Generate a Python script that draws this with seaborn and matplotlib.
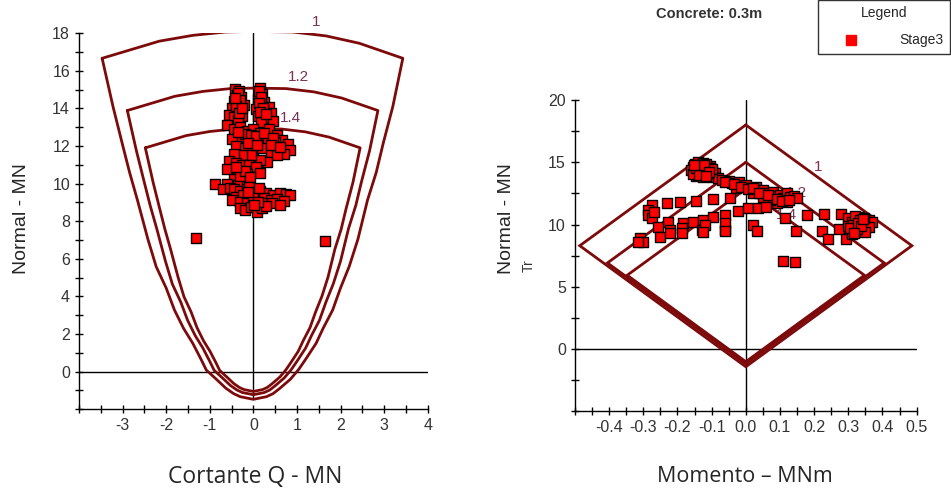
import numpy as np
import pandas as pd
import matplotlib
matplotlib.use("Agg")
import matplotlib.pyplot as plt
from matplotlib.ticker import FixedLocator, MultipleLocator, FormatStrFormatter
from matplotlib.lines import Line2D
import seaborn as sns

sns.set_style("white")
plt.rcParams["font.family"] = ["Liberation Sans", "DejaVu Sans"]
plt.rcParams["axes.unicode_minus"] = False

# ---------------- data ----------------
# safety factors of the envelopes
safety_factors = [1.0, 1.2, 1.4]
factor_labels = ["1", "1.2", "1.4"]

# shear/normal interaction envelope (factor 1), closed loop
env_q = [-3.47, -2.16, -1.39, -0.63, 0.00, 0.90, 1.67, 2.43, 3.43,
         3.20, 2.98, 2.82, 2.62, 2.40, 2.20, 2.00, 1.82, 1.60, 1.44, 1.20,
         1.04, 0.85, 0.60, 0.45, 0.30, 0.00, -0.30, -0.45, -0.63, -0.85,
         -1.08, -1.20, -1.39, -1.60, -1.81, -2.00, -2.23, -2.42, -2.66,
         -2.84, -3.01, -3.22, -3.47]
env_nq = [16.67, 17.58, 17.89, 18.07, 18.10, 18.07, 17.86, 17.47, 16.67,
          14.10, 12.15, 10.60, 9.13, 7.05, 5.60, 4.45, 3.28, 2.30, 1.51, 0.66,
          0.12, -0.40, -0.90, -1.17, -1.33, -1.47, -1.33, -1.17, -0.88, -0.40,
          0.09, 0.66, 1.51, 2.30, 3.28, 4.45, 5.59, 7.05, 9.13,
          10.60, 12.15, 14.10, 16.67]

# moment/normal interaction envelope (factor 1), closed loop
env_m = [0.0, 0.486, 0.0, -0.486, 0.0]
env_nm = [18.0, 8.3, -1.42, 8.3, 18.0]

# Stage3 results: shear vs normal force
stage_q = [-0.42, -0.32, -0.38, -0.28, -0.45, -0.35, -0.22, -0.50, -0.40, -0.30,
           -0.55, -0.45, -0.25, -0.35, -0.36, -0.30, -0.40, -0.33, -0.27, -0.43,
           0.15, 0.12, 0.20, 0.10, 0.25, 0.15, 0.35, 0.05, 0.22, 0.40,
           0.10, 0.30, 0.45, 0.18, 0.14, 0.18, 0.12, 0.22, 0.16, 0.28,
           -0.60, -0.45, -0.30, -0.15, 0.00, 0.15, 0.35, 0.55, 0.65, 0.80,
           0.85, 0.70, 0.50, 0.30, 0.10, -0.10, -0.30, -0.50, -0.40, -0.20,
           0.00, 0.20, 0.40, 0.55, 0.31, 0.15, -0.05, -0.25, -0.45, -0.55,
           -0.20, -0.05, 0.05, 0.25, 0.45, -0.35, -0.12, 0.08, 0.40, 0.62,
           -0.40, -0.25, -0.10, 0.05, -0.61, -0.35, -0.15, 0.15, -0.45, -0.25,
           -0.60, -0.88, -0.70, -0.35, -0.15, -0.53, -0.30, -0.20, -0.08, -0.40,
           -0.45, -0.30, -0.15, 0.00, 0.15, 0.30, 0.45, 0.61, 0.75, 0.84,
           -0.40, -0.23, -0.05, 0.10, 0.25, 0.40, 0.55, 0.70, -0.50, -0.30,
           -0.15, 0.05, 0.20, 0.42, 0.61, -0.30, -0.20, -0.05, 0.08, 0.20, 0.30,
           -0.10, 0.00, 0.10, 0.02, -0.12, 0.12,
           -1.32, 1.65]
stage_nq = [15.05, 14.95, 14.70, 14.60, 14.40, 14.30, 14.20, 14.05, 13.95, 13.90,
            13.65, 13.55, 13.60, 13.40, 14.85, 14.45, 14.15, 13.75, 14.00, 14.55,
            15.10, 14.85, 14.75, 14.50, 14.35, 14.20, 14.10, 13.95, 13.90, 13.75,
            13.60, 13.50, 13.35, 13.30, 14.95, 14.60, 14.30, 14.05, 13.80, 13.70,
            13.10, 12.90, 13.00, 12.80, 12.90, 12.70, 12.90, 12.60, 12.30, 12.10,
            11.80, 11.60, 12.20, 12.40, 12.30, 12.40, 12.50, 12.40, 12.00, 11.90,
            11.80, 11.90, 11.70, 11.50, 11.17, 11.25, 11.50, 11.50, 11.60, 11.20,
            12.65, 12.60, 12.55, 12.70, 12.45, 12.75, 12.15, 12.05, 12.05, 11.95,
            11.10, 11.00, 11.00, 10.90, 10.80, 10.60, 10.50, 10.55, 10.25, 10.20,
            10.00, 9.97, 9.70, 9.95, 10.10, 9.75, 10.40, 10.70, 10.35, 10.90,
            9.70, 9.60, 9.70, 9.50, 9.60, 9.50, 9.40, 9.50, 9.45, 9.40,
            9.30, 9.40, 9.20, 9.30, 9.25, 9.15, 9.20, 9.10, 9.13, 9.00,
            8.95, 9.00, 8.95, 8.96, 8.87, 8.70, 8.60, 8.75, 8.50, 8.70, 8.80,
            9.85, 9.35, 9.05, 8.85, 9.55, 9.75,
            7.10, 6.97]

# Stage3 results: bending moment vs normal force
stage_m = [-0.150, -0.140, -0.125, -0.155, -0.140, -0.120, -0.105, -0.150, -0.135, -0.120,
           -0.100, -0.145, -0.125, -0.110, -0.090, -0.130, -0.115, -0.160, -0.095, -0.080,
           -0.145, -0.135, -0.130, -0.150, -0.110, -0.140, -0.125, -0.118, -0.105, -0.155,
           -0.132, -0.112, -0.128, -0.147, -0.098, -0.138, -0.122, -0.108, -0.152, -0.117,
           -0.07, -0.05, -0.04, -0.02, -0.01, 0.00, 0.01, 0.03, 0.03, 0.05,
           0.06, 0.08, 0.08, 0.10, 0.11, 0.12, 0.13, 0.14, 0.10, 0.09,
           0.07, 0.05, 0.02, -0.03, 0.12, 0.15,
           -0.06, -0.035, -0.015, 0.005, 0.02, 0.04, 0.065, 0.09, 0.105, 0.125,
           -0.275, -0.230, -0.193, -0.146, -0.097, -0.045,
           -0.285, -0.285, -0.275, -0.270,
           -0.227, -0.183, -0.154, -0.125, -0.095, -0.061, -0.022, 0.007, 0.036, 0.060,
           -0.256, -0.222, -0.188, -0.129, -0.120, -0.061, -0.061, -0.309, -0.300, -0.316,
           -0.251, -0.222, -0.188, -0.126, -0.061, 0.021, 0.033,
           0.114, 0.146, 0.109, 0.143, 0.179, 0.230, 0.224, 0.240, 0.279, 0.274, 0.292,
           0.300, 0.310, 0.320, 0.310, 0.330, 0.340, 0.330, 0.320, 0.350, 0.340,
           0.360, 0.370, 0.360, 0.350, 0.300, 0.320, 0.345, 0.310,
           0.315, 0.325, 0.335, 0.305, 0.328, 0.338, 0.318, 0.342]
stage_nm = [14.90, 15.00, 14.95, 14.60, 14.50, 14.60, 14.70, 14.20, 14.10, 14.30,
            14.30, 13.90, 13.85, 14.00, 14.10, 14.70, 14.40, 14.40, 13.80, 13.75,
            14.75, 14.80, 14.45, 14.35, 14.50, 14.00, 14.20, 14.85, 14.55, 14.05,
            14.65, 14.15, 14.40, 14.55, 14.45, 13.95, 14.75, 14.25, 14.80, 13.90,
            13.60, 13.50, 13.30, 13.40, 13.10, 13.20, 12.90, 13.00, 12.70, 12.80,
            12.50, 12.60, 12.30, 12.40, 12.10, 12.50, 12.20, 12.30, 11.90, 11.70,
            12.00, 12.20, 12.50, 12.90, 11.80, 12.10,
            13.45, 13.25, 13.00, 12.85, 12.95, 12.55, 12.40, 12.05, 11.85, 12.00,
            11.57, 11.70, 11.83, 11.91, 12.02, 12.15,
            11.20, 10.80, 10.50, 11.00,
            10.22, 10.10, 10.22, 10.36, 10.57, 10.76, 11.10, 11.30, 11.30, 11.43,
            9.82, 9.56, 9.69, 9.56, 9.96, 9.56, 10.10, 8.89, 8.62, 8.60,
            9.02, 9.30, 9.29, 9.42, 9.48, 9.96, 9.48,
            10.50, 9.48, 7.09, 6.96, 10.76, 10.84, 9.50, 8.81, 10.84, 9.61, 8.81,
            10.50, 10.20, 9.80, 9.40, 10.60, 10.30, 9.90, 9.50, 10.10, 9.60,
            10.40, 10.20, 9.80, 9.40, 9.90, 10.70, 10.55, 9.20,
            10.00, 9.65, 10.35, 9.70, 10.15, 9.85, 9.35, 10.45]

q_ticks = [-3, -2, -1, 0, 1, 2, 3, 4]
nq_ticks = [0, 2, 4, 6, 8, 10, 12, 14, 16, 18]
m_ticks = [-0.4, -0.3, -0.2, -0.1, 0.0, 0.1, 0.2, 0.3, 0.4, 0.5]
nm_ticks = [0, 5, 10, 15, 20]

df_q = pd.DataFrame({"Q": stage_q, "N": stage_nq})
df_m = pd.DataFrame({"M": stage_m, "N": stage_nm})

# ---------------- figure ----------------
ENV_COLOR = "#7d0a0a"
LBL_COLOR = "#7b3355"
TICK_COLOR = "#333333"

fig = plt.figure(figsize=(9.51, 4.91), dpi=100)
ax1 = fig.add_axes([0.0831, 0.1664, 0.3666, 0.7658])
ax2 = fig.add_axes([0.6046, 0.1623, 0.3593, 0.6340])


def style_axes(ax):
    for side in ("top", "right"):
        ax.spines[side].set_visible(False)
    for side in ("left", "bottom"):
        ax.spines[side].set_color("black")
        ax.spines[side].set_linewidth(1.0)
    ax.tick_params(which="both", bottom=True, left=True, direction="inout",
                   length=6, width=1.0, color="black", labelcolor=TICK_COLOR,
                   labelsize=11.5)
    ax.set_facecolor("white")


# left: shear - normal
style_axes(ax1)
ax1.set_xlim(-4, 4)
ax1.set_ylim(-2, 18)
ax1.axhline(0, color="black", lw=1.0, zorder=1)
ax1.plot([0, 0], [min(env_nq), max(env_nq)], color="black", lw=1.0, zorder=1)
for fs in safety_factors:
    ax1.plot(np.array(env_q) / fs, np.array(env_nq) / fs, color=ENV_COLOR,
             lw=2.0, zorder=2, solid_joinstyle="round")
for txt, x, y in zip(factor_labels, [1.44, 1.04, 0.84], [18.6, 15.7, 13.5]):
    ax1.text(x, y, txt, color=LBL_COLOR, fontsize=11, ha="center", va="center", zorder=2)
sns.scatterplot(data=df_q, x="Q", y="N", ax=ax1, marker="s", s=60, color="#ff0000",
                edgecolor="black", linewidth=1.0, zorder=3, legend=False)
ax1.xaxis.set_major_locator(FixedLocator(q_ticks))
ax1.xaxis.set_minor_locator(MultipleLocator(0.5))
ax1.yaxis.set_major_locator(FixedLocator(nq_ticks))
ax1.yaxis.set_minor_locator(MultipleLocator(1))
ax1.set_xlabel("Cortante Q - MN", fontsize=16.5, family=["Open Sans", "DejaVu Sans"],
               va="center")
ax1.set_ylabel("Normal - MN", fontsize=14, va="center")
ax1.xaxis.set_label_coords(0.505, -0.18)
ax1.yaxis.set_label_coords(-0.166, 0.506)

# right: moment - normal
style_axes(ax2)
ax2.set_xlim(-0.5, 0.5)
ax2.set_ylim(-5, 20)
ax2.axhline(0, color="black", lw=1.0, zorder=1)
ax2.axvline(0, color="black", lw=1.0, zorder=1)
for fs in safety_factors:
    ax2.plot(np.array(env_m) / fs, np.array(env_nm) / fs, color=ENV_COLOR,
             lw=2.0, zorder=2, solid_joinstyle="miter")
for txt, x, y in zip(factor_labels, [0.212, 0.149, 0.12], [14.64, 12.5, 10.76]):
    ax2.text(x, y, txt, color=LBL_COLOR, fontsize=11, ha="center", va="center", zorder=2)
sns.scatterplot(data=df_m, x="M", y="N", ax=ax2, marker="s", s=60, color="#ff0000",
                edgecolor="black", linewidth=1.0, zorder=3, legend=False)
ax2.xaxis.set_major_locator(FixedLocator(m_ticks))
ax2.xaxis.set_major_formatter(FormatStrFormatter("%.1f"))
ax2.xaxis.set_minor_locator(MultipleLocator(0.05))
ax2.yaxis.set_major_locator(FixedLocator(nm_ticks))
ax2.yaxis.set_minor_locator(MultipleLocator(2.5))
ax2.set_xlabel("Momento \u2013 MNm", fontsize=15.5, family=["Open Sans", "DejaVu Sans"],
               va="center")
ax2.set_ylabel("Normal - MN", fontsize=14, va="center")
ax2.xaxis.set_label_coords(0.4975, -0.211)
ax2.yaxis.set_label_coords(-0.199, 0.618)
fig.text(0.5563, 0.4582, "Tr", rotation=90, fontsize=10, color=TICK_COLOR,
         ha="center", va="center")

fig.text(0.7455, 0.9715, "Concrete: 0.3m", fontsize=10.5, fontweight="bold",
         color=TICK_COLOR, ha="center", va="center")

handle = Line2D([], [], linestyle="none", marker="s", markersize=7,
                markerfacecolor="#ff0000", markeredgecolor="#ff0000")
leg = fig.legend(handles=[handle], labels=["Stage3"], title="Legend",
                 loc="upper right", bbox_to_anchor=(0.999, 1.0), frameon=True,
                 fancybox=False, fontsize=10, title_fontsize=10,
                 handlelength=3.84, handletextpad=1.6, borderpad=0.45,
                 labelspacing=0.95, borderaxespad=0.0)
leg.get_frame().set_edgecolor("black")
leg.get_frame().set_linewidth(1.0)

fig.savefig("out.png", dpi=100, facecolor="white")
